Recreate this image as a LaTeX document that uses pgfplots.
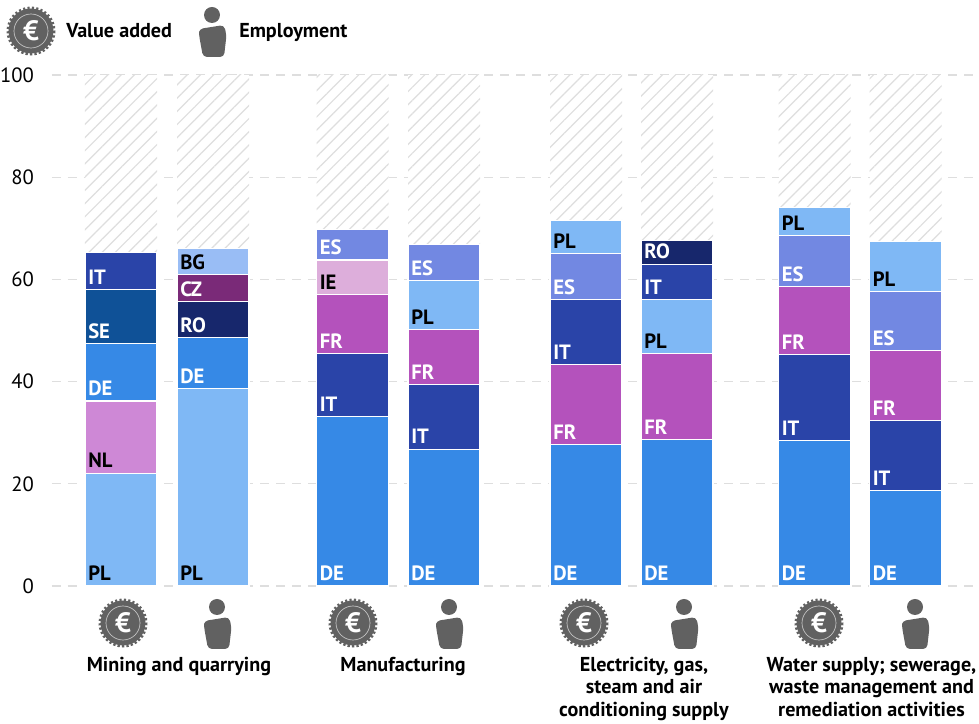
\documentclass[border=0pt]{standalone}
\usepackage{fontspec}
\setmainfont{PT Sans}
\usepackage{pgfplots}
\pgfplotsset{compat=1.18}
\usetikzlibrary{patterns.meta}

\definecolor{cPL}{HTML}{7FB8F5}
\definecolor{cDE}{HTML}{3689E6}
\definecolor{cNL}{HTML}{CE88D6}
\definecolor{cSE}{HTML}{0F5197}
\definecolor{cIT}{HTML}{2A44A8}
\definecolor{cRO}{HTML}{17276C}
\definecolor{cCZ}{HTML}{7A2A78}
\definecolor{cBG}{HTML}{99BDF5}
\definecolor{cFR}{HTML}{B452BC}
\definecolor{cIE}{HTML}{DDAEDB}
\definecolor{cES}{HTML}{7288E2}
\definecolor{icon}{HTML}{616161}
\definecolor{gridc}{HTML}{DEDEDE}

\newcommand{\pxfont}[1]{\fontsize{#1}{#1}\selectfont}

% x centre, bottom, top, country, label colour (tallest segment first)
\newcommand{\seg}[5]{%
  \addplot[fill=c#4, draw=white, line width=0.8pt] coordinates {(#1,#3)};
  \node[anchor=base west, inner sep=0pt, text=#5, font=\pxfont{15.5}\bfseries]
    at (axis cs:#1-33,#2+1) {#4};
}
\newcommand{\hatchbar}[1]{%
  \addplot[draw=none, preaction={fill=white},
    pattern={Lines[angle=45,distance=7pt,line width=0.9pt]}, pattern color=gridc]
    coordinates {(#1,100)};
}
\newcommand{\coin}[2]{%
  \fill[icon] (#1,#2) circle (22.5);
  \draw[icon, line width=3pt, dash pattern=on 1.6pt off 1.6pt] (#1,#2) circle (22.5);
  \draw[white!65!icon, line width=0.5pt] (#1,#2) circle (17);
  \node[white, font=\pxfont{21}\bfseries, inner sep=0pt] at (#1,#2) {€};
}
\newcommand{\person}[2]{%
  \fill[icon] (#1,#2) circle (8);
  \fill[icon, rounded corners=3pt, shift={(#1,#2)}]
    (-13,14) -- (12,10) -- (14.5,20) -- (12,42) -- (-9,42) -- (-13,20) -- cycle;
}

\begin{document}
\begin{tikzpicture}
\useasboundingbox (-39pt,-103.5pt) rectangle (695.25pt,439.5pt);
\begin{axis}[
  scale only axis, width=695.25pt, height=383.25pt,
  xmin=52, xmax=979, ymin=0, ymax=100,
  axis line style={draw=none},
  xtick=\empty, ytick={0,20,40,60,80,100},
  major tick length=0pt,
  ymajorgrids, grid style={gridc, line width=0.9pt, dash pattern=on 7pt off 5pt},
  yticklabel style={font=\pxfont{15.5}, xshift=-10pt},
  /pgf/number format/assume math mode=true,
  ybar, bar shift=0pt, bar width=54pt,
  clip=false, axis on top=false,
]
\hatchbar{121}\hatchbar{213}\hatchbar{352.5}\hatchbar{444}
\hatchbar{586}\hatchbar{677}\hatchbar{814.5}\hatchbar{905.5}

% Mining and quarrying, value added
\seg{121}{58.0}{65.2}{IT}{white}
\seg{121}{47.5}{58.0}{SE}{white}
\seg{121}{36.2}{47.5}{DE}{white}
\seg{121}{22.1}{36.2}{NL}{black}
\seg{121}{0}{22.1}{PL}{black}
% Mining and quarrying, employment
\seg{213}{61.0}{66.0}{BG}{black}
\seg{213}{55.7}{61.0}{CZ}{white}
\seg{213}{48.7}{55.7}{RO}{white}
\seg{213}{38.7}{48.7}{DE}{white}
\seg{213}{0}{38.7}{PL}{black}
% Manufacturing, value added
\seg{352.5}{63.8}{69.8}{ES}{white}
\seg{352.5}{57.0}{63.8}{IE}{black}
\seg{352.5}{45.5}{57.0}{FR}{white}
\seg{352.5}{33.1}{45.5}{IT}{white}
\seg{352.5}{0}{33.1}{DE}{white}
% Manufacturing, employment
\seg{444}{59.8}{66.8}{ES}{white}
\seg{444}{50.2}{59.8}{PL}{black}
\seg{444}{39.5}{50.2}{FR}{white}
\seg{444}{26.8}{39.5}{IT}{white}
\seg{444}{0}{26.8}{DE}{white}
% Electricity, value added
\seg{586}{65.0}{71.6}{PL}{black}
\seg{586}{56.0}{65.0}{ES}{white}
\seg{586}{43.4}{56.0}{IT}{white}
\seg{586}{27.6}{43.4}{FR}{white}
\seg{586}{0}{27.6}{DE}{white}
% Electricity, employment
\seg{677}{63.0}{67.6}{RO}{white}
\seg{677}{56.0}{63.0}{IT}{white}
\seg{677}{45.5}{56.0}{PL}{black}
\seg{677}{28.6}{45.5}{FR}{white}
\seg{677}{0}{28.6}{DE}{white}
% Water supply, value added
\seg{814.5}{68.5}{74.1}{PL}{black}
\seg{814.5}{58.6}{68.5}{ES}{white}
\seg{814.5}{45.3}{58.6}{FR}{white}
\seg{814.5}{28.4}{45.3}{IT}{white}
\seg{814.5}{0}{28.4}{DE}{white}
% Water supply, employment
\seg{905.5}{57.7}{67.5}{PL}{black}
\seg{905.5}{46.0}{57.7}{ES}{white}
\seg{905.5}{32.4}{46.0}{FR}{white}
\seg{905.5}{18.6}{32.4}{IT}{white}
\seg{905.5}{0}{18.6}{DE}{white}
\end{axis}

% picture pixels from here on
\begin{scope}[shift={(-39pt,439.5pt)}, x=0.75pt, y=-0.75pt]
\coin{31}{31}
\person{212}{15}
\node[anchor=base west, inner sep=0pt, font=\pxfont{15.1}\bfseries] at (66,38) {Value added};
\node[anchor=base west, inner sep=0pt, font=\pxfont{15.1}\bfseries] at (239,38) {Employment};

\coin{123}{623}\person{217}{607}
\coin{353}{623}\person{449}{607}
\coin{584}{623}\person{684}{607}
\coin{819}{623}\person{915}{607}

\tikzset{cat/.style={align=center, inner sep=0pt, anchor=base, font=\pxfont{15.1}\bfseries}}
\node[cat] at (179,672) {Mining and quarrying};
\node[cat] at (403,672) {Manufacturing};
\node[cat] at (644,672) {Electricity, gas,};
\node[cat] at (644,694) {steam and air};
\node[cat] at (644,717) {conditioning supply};
\node[cat] at (871.5,672) {Water supply; sewerage,};
\node[cat] at (871.5,694) {waste management and};
\node[cat] at (871.5,717) {remediation activities};
\end{scope}
\end{tikzpicture}
\end{document}
